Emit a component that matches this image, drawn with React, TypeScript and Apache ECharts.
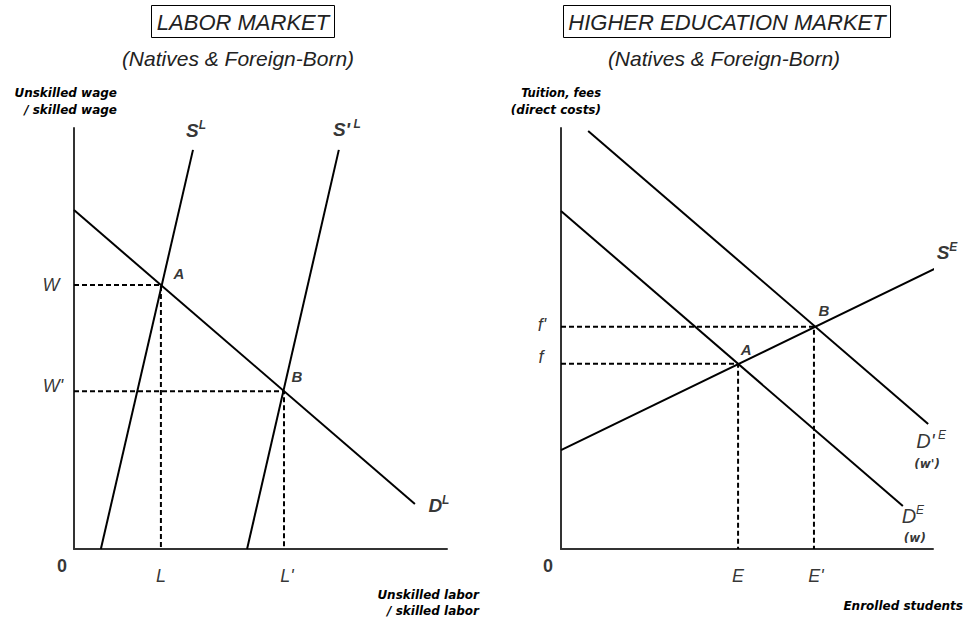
import React, { useEffect, useRef } from "react";
import * as echarts from "echarts";

// ---------- Left panel: labor market (axes run 0–100) ----------
const laborDemand = [[0, 80.5], [91.4, 10.7]];
const laborSupply = [[7.2, 0], [31.9, 94.8]];
const laborSupplyShifted = [[46.4, 0], [71.0, 94.8]];
const laborEqA = [23.3, 62.7];
const laborEqB = [56.3, 37.5];
const laborYTickLabels = ["W", "W'"];
const laborXTickLabels = ["L", "L'"];

// ---------- Right panel: higher education market (axes run 0–100) ----------
const eduDemand = [[0, 80.3], [91.9, 10.2]];
const eduDemandShifted = [[7.3, 99.3], [98.7, 29.7]];
const eduSupply = [[0, 23.5], [102.7, 67.5]];
const eduEqA = [47.6, 44.0];
const eduEqB = [68.0, 52.8];
const eduYTickLabels = ["f", "f'"];
const eduXTickLabels = ["E", "E'"];

const FONT = "'Liberation Sans', Arial, sans-serif";
const BOLD_FONT = "'DejaVu Sans', sans-serif";

type Lbl = { key: string; panel: number; at: number[]; text: string };

const labelItems: Lbl[] = [
  { key: "W", panel: 0, at: [0, laborEqA[1]], text: laborYTickLabels[0] },
  { key: "W'", panel: 0, at: [0, laborEqB[1]], text: laborYTickLabels[1] },
  { key: "L", panel: 0, at: [laborEqA[0], 0], text: laborXTickLabels[0] },
  { key: "L'", panel: 0, at: [laborEqB[0], 0], text: laborXTickLabels[1] },
  { key: "0L", panel: 0, at: [0, 0], text: "{z|0}" },
  { key: "AL", panel: 0, at: laborEqA, text: "{a|A}" },
  { key: "BL", panel: 0, at: laborEqB, text: "{a|B}" },
  { key: "SL", panel: 0, at: laborSupply[1], text: "{mb|S}{sb|L}" },
  { key: "S'L", panel: 0, at: laborSupplyShifted[1], text: "{mb|S'}{sb| L}" },
  { key: "DL", panel: 0, at: laborDemand[1], text: "{mb|D}{sb|L}" },
  { key: "f", panel: 1, at: [0, eduEqA[1]], text: eduYTickLabels[0] },
  { key: "f'", panel: 1, at: [0, eduEqB[1]], text: eduYTickLabels[1] },
  { key: "E", panel: 1, at: [eduEqA[0], 0], text: eduXTickLabels[0] },
  { key: "E'", panel: 1, at: [eduEqB[0], 0], text: eduXTickLabels[1] },
  { key: "0E", panel: 1, at: [0, 0], text: "{z|0}" },
  { key: "AE", panel: 1, at: eduEqA, text: "{a|A}" },
  { key: "BE", panel: 1, at: eduEqB, text: "{a|B}" },
  { key: "SE", panel: 1, at: eduSupply[1], text: "{mb|S}{sb|E}" },
  { key: "D'E", panel: 1, at: eduDemandShifted[1], text: "{m|D'}{s| E}" },
  { key: "w'", panel: 1, at: eduDemandShifted[1], text: "{p|(w')}" },
  { key: "DE", panel: 1, at: eduDemand[1], text: "{m|D}{s|E}" },
  { key: "w", panel: 1, at: eduDemand[1], text: "{p|(w)}" },
];

// pixel offsets of labels from their anchors (layout only)
const labelOffsets: Record<string, [number, number]> = {
  W: [-23, 0],
  "W'": [-21, -5],
  L: [0, 27],
  "L'": [3, 27],
  "0L": [-12, 17],
  AL: [18, -12],
  BL: [13, -15],
  SL: [3, -20],
  "S'L": [8, -21],
  DL: [24, 1],
  f: [-20, -7],
  "f'": [-19, -2],
  E: [0, 27],
  "E'": [2, 27],
  "0E": [-13, 17],
  AE: [8, -14],
  BE: [10, -16],
  SE: [4, -13],
  "D'E": [3, 16],
  "w'": [-1, 40],
  DE: [10, 9],
  w: [12, 32],
};

const rich = {
  m: { fontSize: 20, fontStyle: "italic", fontFamily: FONT, color: "#000", lineHeight: 22, verticalAlign: "bottom" },
  s: { fontSize: 12, fontStyle: "italic", fontFamily: FONT, color: "#000", lineHeight: 13, verticalAlign: "top" },
  mb: { fontSize: 19, fontStyle: "italic", fontWeight: "bold", fontFamily: FONT, color: "#000", lineHeight: 21, verticalAlign: "bottom" },
  sb: { fontSize: 12, fontStyle: "italic", fontWeight: "bold", fontFamily: FONT, color: "#000", lineHeight: 13, verticalAlign: "top" },
  z: { fontSize: 18, fontStyle: "normal", fontWeight: "bold", fontFamily: FONT, color: "#000" },
  a: { fontSize: 15, fontStyle: "italic", fontWeight: "bold", fontFamily: FONT, color: "#000" },
  p: { fontSize: 12, fontStyle: "italic", fontWeight: "bold", fontFamily: BOLD_FONT, color: "#000" },
};

const curveStyle = { color: "#000", width: 2 };
const dashStyle = { color: "#000", width: 2, type: [5, 3] as number[] };

function curve(name: string, data: number[][], panel: number, dashed = false) {
  return {
    name,
    type: "line",
    xAxisIndex: panel,
    yAxisIndex: panel,
    data,
    symbol: "none",
    clip: false,
    silent: true,
    lineStyle: dashed ? dashStyle : curveStyle,
    z: dashed ? 2 : 3,
  };
}

function labelSeries(panel: number) {
  return {
    type: "scatter",
    xAxisIndex: panel,
    yAxisIndex: panel,
    symbolSize: 1,
    clip: false,
    silent: true,
    itemStyle: { color: "rgba(0,0,0,0)" },
    z: 5,
    data: labelItems
      .filter((l) => l.panel === panel)
      .map((l) => ({
        value: l.at,
        label: {
          show: true,
          position: "inside",
          align: "center",
          verticalAlign: "middle",
          offset: labelOffsets[l.key],
          formatter: l.text,
          fontFamily: FONT,
          fontStyle: "italic",
          fontSize: 18,
          color: "#000",
          rich,
        },
      })),
  };
}

const axisBase = {
  type: "value",
  min: 0,
  max: 100,
  axisLine: { show: true, onZero: false, lineStyle: { color: "#333", width: 2 } },
  axisTick: { show: false },
  axisLabel: { show: false },
  splitLine: { show: false },
};

const titleFont = { fontFamily: FONT, fontStyle: "italic", fill: "#222" };
const axisNameFont = { fontFamily: BOLD_FONT, fontStyle: "italic", fontWeight: "bold", fontSize: 12, fill: "#000" };

function txt(text: string, x: number, y: number, style: any, align = "center") {
  return {
    type: "text",
    x,
    y,
    silent: true,
    style: { text, textAlign: align, textVerticalAlign: "middle", ...style },
  };
}

const option = {
  animation: false,
  backgroundColor: "#fff",
  grid: [
    { left: 74, top: 128, width: 373, height: 421 },
    { left: 561, top: 128, width: 372, height: 421 },
  ],
  xAxis: [
    { ...axisBase, gridIndex: 0 },
    { ...axisBase, gridIndex: 1 },
  ],
  yAxis: [
    { ...axisBase, gridIndex: 0 },
    { ...axisBase, gridIndex: 1 },
  ],
  series: [
    curve("Dashed A (labor)", [[0, laborEqA[1]], laborEqA, [laborEqA[0], 0]], 0, true),
    curve("Dashed B (labor)", [[0, laborEqB[1]], laborEqB, [laborEqB[0], 0]], 0, true),
    curve("D^L", laborDemand, 0),
    curve("S^L", laborSupply, 0),
    curve("S'^L", laborSupplyShifted, 0),
    curve("Dashed A (edu)", [[0, eduEqA[1]], eduEqA, [eduEqA[0], 0]], 1, true),
    curve("Dashed B (edu)", [[0, eduEqB[1]], eduEqB, [eduEqB[0], 0]], 1, true),
    curve("D^E", eduDemand, 1),
    curve("D'^E", eduDemandShifted, 1),
    curve("S^E", eduSupply, 1),
    labelSeries(0),
    labelSeries(1),
  ],
  graphic: [
    { type: "rect", silent: true, shape: { x: 151.5, y: 5.5, width: 183, height: 32 }, style: { fill: "none", stroke: "#000", lineWidth: 1 } },
    txt("LABOR MARKET", 243, 22, { ...titleFont, fontSize: 22 }),
    txt("(Natives & Foreign-Born)", 238, 58, { ...titleFont, fontSize: 21 }),
    { type: "rect", silent: true, shape: { x: 563.5, y: 5.5, width: 327, height: 32 }, style: { fill: "none", stroke: "#000", lineWidth: 1 } },
    txt("HIGHER EDUCATION MARKET", 727, 22, { ...titleFont, fontSize: 22 }),
    txt("(Natives & Foreign-Born)", 724, 58, { ...titleFont, fontSize: 21 }),
    txt("Unskilled wage", 117, 93, axisNameFont, "right"),
    txt("/ skilled wage", 117, 110, axisNameFont, "right"),
    txt("Tuition, fees", 601, 93, { ...axisNameFont, fontSize: 11.5 }, "right"),
    txt("(direct costs)", 601, 110, axisNameFont, "right"),
    txt("Unskilled labor", 479, 595, axisNameFont, "right"),
    txt("/ skilled labor", 479, 611, axisNameFont, "right"),
    txt("Enrolled students", 963, 606, axisNameFont, "right"),
  ],
};

export default function App() {
  const ref = useRef<HTMLDivElement>(null);
  useEffect(() => {
    if (!ref.current) return;
    const chart = echarts.init(ref.current, null, { renderer: "svg" });
    chart.setOption(option as any);
    return () => chart.dispose();
  }, []);
  return (
    <div
      ref={ref}
      style={{ position: "absolute", left: 0, top: 0, width: 969, height: 623, background: "#fff" }}
    />
  );
}
